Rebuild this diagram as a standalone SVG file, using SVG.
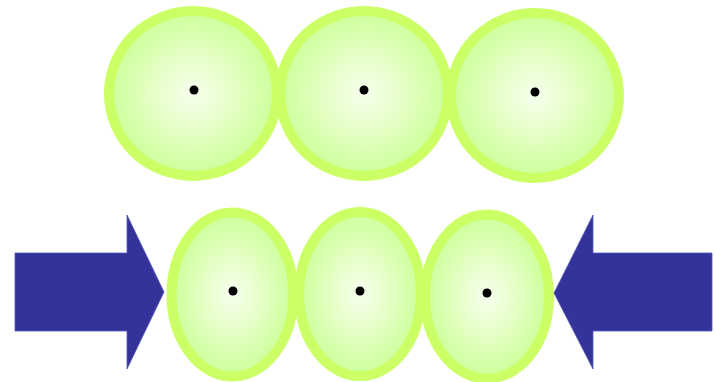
<svg xmlns="http://www.w3.org/2000/svg" width="716" height="382" viewBox="0 0 716 382">
<style>
.cell{stroke:#ccff66;stroke-width:10;fill:url(#g)}
.dot{fill:#000}
.arrow{fill:#333399;stroke:#5555bb;stroke-width:0.8}
</style>
<defs>
<radialGradient id="g" cx="0.5" cy="0.5" r="0.5">
<stop offset="0" stop-color="#f6ffee"/>
<stop offset="0.5" stop-color="#e4ffc4"/>
<stop offset="1" stop-color="#ccff99"/>
</radialGradient>
</defs>
<rect width="716" height="382" fill="#fff"/>
<g id="top1"><ellipse class="cell" cx="193" cy="93.5" rx="84" ry="82.5"/><circle class="dot" cx="194" cy="90" r="4.5"/></g>
<g id="top2"><ellipse class="cell" cx="364" cy="93.5" rx="84" ry="82.5"/><circle class="dot" cx="364" cy="90" r="4.5"/></g>
<g id="top3"><ellipse class="cell" cx="535" cy="95.5" rx="84" ry="82.5"/><circle class="dot" cx="535" cy="92" r="4.5"/></g>
<g id="bot1"><ellipse class="cell" cx="232.5" cy="294.5" rx="61" ry="82"/><circle class="dot" cx="233" cy="291" r="4.5"/></g>
<g id="bot2"><ellipse class="cell" cx="360" cy="294" rx="61" ry="82"/><circle class="dot" cx="360" cy="291" r="4.5"/></g>
<g id="bot3"><ellipse class="cell" cx="487" cy="296.5" rx="62" ry="82"/><circle class="dot" cx="487" cy="293" r="4.5"/></g>
<g id="arrowLeft"><polygon class="arrow" points="15,253 127,253 127,215 164,292 127,369 127,331 15,331"/></g>
<g id="arrowRight"><polygon class="arrow" points="712,253 593,253 593,215 554,293 593,369 593,331 712,331"/></g>
</svg>
